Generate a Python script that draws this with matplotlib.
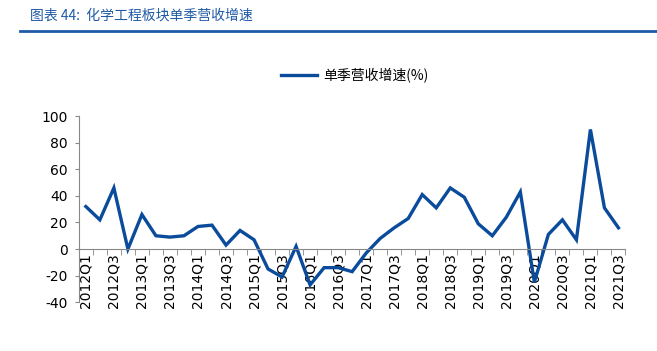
import numpy as np
import matplotlib.pyplot as plt
from matplotlib.lines import Line2D

plt.rcParams['font.family'] = ['Noto Sans CJK SC', 'DejaVu Sans']

# ---- data ----
quarters = [f"{y}Q{q}" for y in range(2012, 2022) for q in range(1, 5)][:39]
growth = [32, 22, 46, 0, 26, 10, 9, 10, 17, 18, 3, 14,
          7, -15, -21, 2, -27, -14, -14, -17, -3, 8, 16, 23,
          41, 31, 46, 39, 19, 10, 24, 43, -25, 11, 22, 7,
          90, 31, 16]
yticks = [-40, -20, 0, 20, 40, 60, 80, 100]

line_color = '#0a4b9b'
title_color = '#1f5aa6'

fig = plt.figure(figsize=(6.57, 3.51), dpi=100)
ax = fig.add_axes([0.120, 0.139, 0.832, 0.530])

x = np.arange(len(quarters))
ax.plot(x, growth, color=line_color, lw=2.4, solid_joinstyle='miter')

ax.set_xlim(-0.5, len(quarters) - 0.5)
ax.set_ylim(-40, 100)
ax.set_yticks(yticks)
ax.set_yticklabels([str(v) for v in yticks], family='DejaVu Sans', fontsize=10)

# category axis sits at y=0
for s in ['top', 'right']:
    ax.spines[s].set_visible(False)
ax.spines['bottom'].set_position(('data', 0))
ax.spines['bottom'].set_color('#888888')
ax.spines['left'].set_color('#888888')
ax.spines['left'].set_linewidth(0.8)
ax.spines['bottom'].set_linewidth(0.8)
ax.tick_params(axis='y', direction='out', length=3, color='#888888', pad=5)

ax.set_xticks(x[::2])
ax.set_xticklabels(quarters[::2], rotation=90, family='DejaVu Sans', fontsize=10, va='top')
ax.set_xticks(np.arange(len(quarters) + 1) - 0.5, minor=True)
ax.tick_params(axis='x', which='major', length=0, pad=3)
ax.tick_params(axis='x', which='minor', direction='out', length=4, color='#888888')

# legend
leg_handle = Line2D([], [], color=line_color, lw=2.4)
fig.legend([leg_handle], ['单季营收增速(%)'], loc='center', bbox_to_anchor=(0.54, 0.785),
           frameon=False, fontsize=10, handlelength=2.6, handletextpad=0.4)

# header
fig.text(0.045, 0.955, '图表 44:  化学工程板块单季营收增速', color=title_color,
         fontsize=10, va='center', ha='left', style='italic')
fig.add_artist(Line2D([0.03, 1.0], [0.912, 0.912], transform=fig.transFigure,
                      color=title_color, lw=2))

fig.savefig('out.png', dpi=100)
